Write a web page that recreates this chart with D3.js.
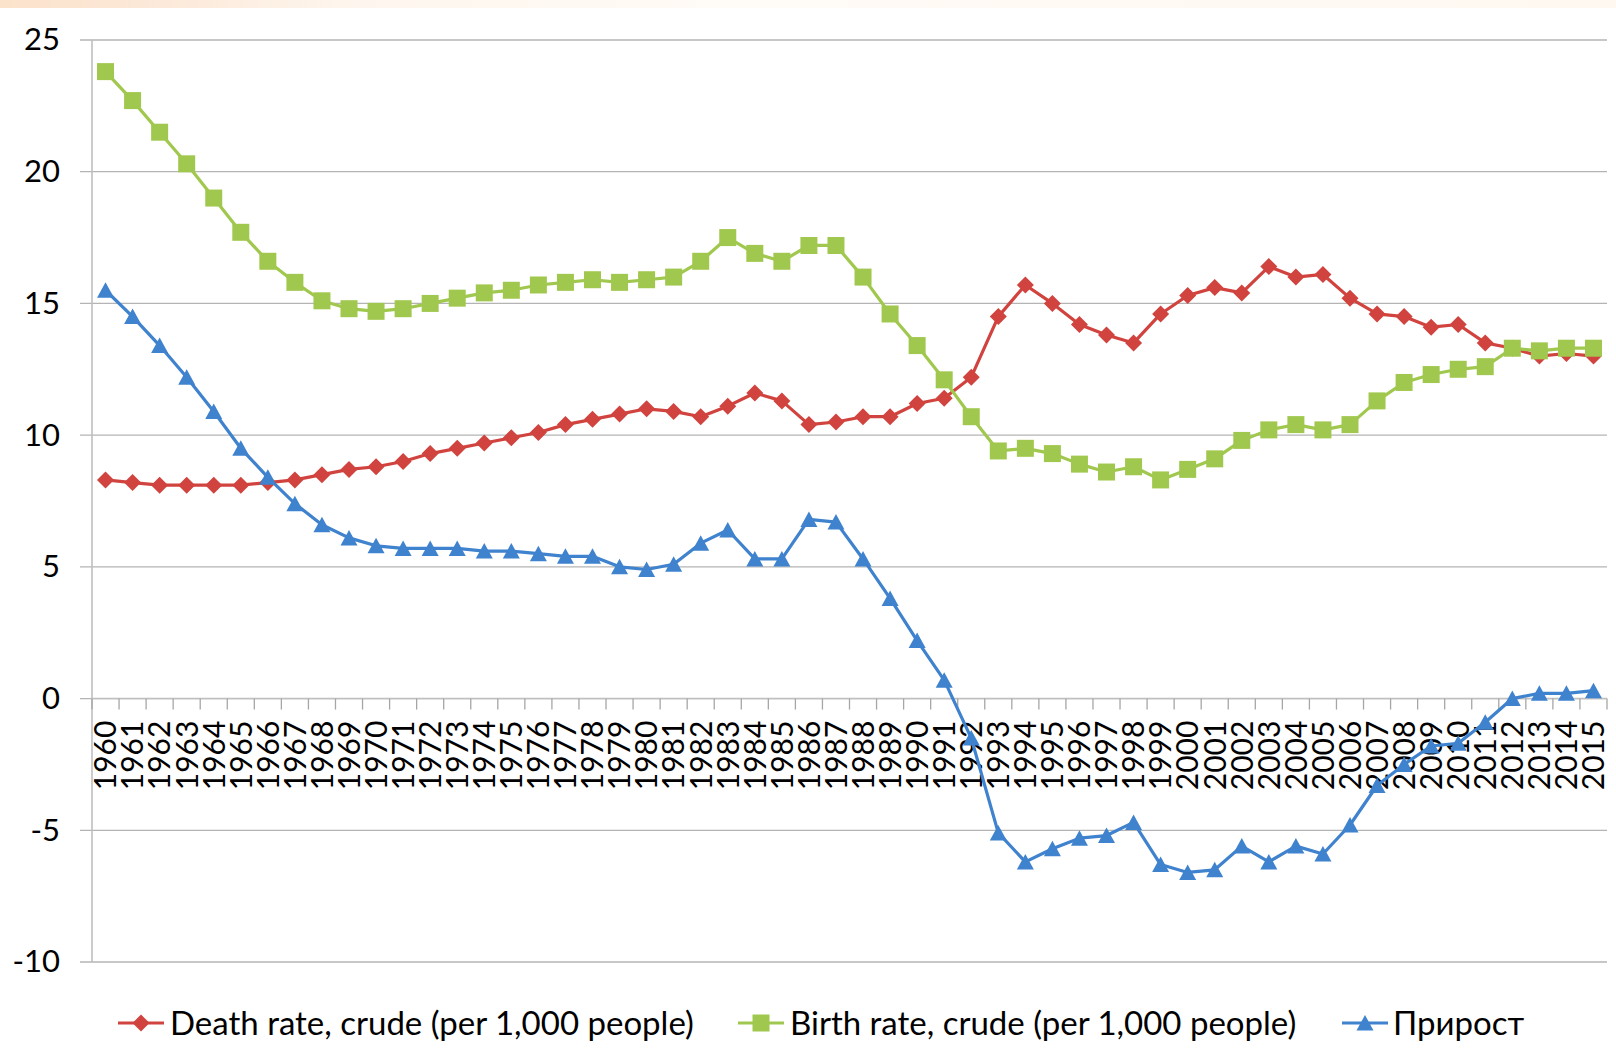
<!DOCTYPE html>
<html>
<head>
<meta charset="utf-8">
<script src="https://cdn.jsdelivr.net/npm/d3@7"></script>
<style>
  html, body { margin: 0; padding: 0; background: #ffffff; }
  svg { display: block; }
  text { font-family: Lato, "Open Sans", sans-serif; fill: #000; }
</style>
</head>
<body>
<svg id="chart" width="1616" height="1058"></svg>
<script>
// ---- data ----
const years = [1960,1961,1962,1963,1964,1965,1966,1967,1968,1969,
  1970,1971,1972,1973,1974,1975,1976,1977,1978,1979,
  1980,1981,1982,1983,1984,1985,1986,1987,1988,1989,
  1990,1991,1992,1993,1994,1995,1996,1997,1998,1999,
  2000,2001,2002,2003,2004,2005,2006,2007,2008,2009,
  2010,2011,2012,2013,2014,2015];

const deathRate = [8.3,8.2,8.1,8.1,8.1,8.1,8.2,8.3,8.5,8.7,
  8.8,9.0,9.3,9.5,9.7,9.9,10.1,10.4,10.6,10.8,
  11.0,10.9,10.7,11.1,11.6,11.3,10.4,10.5,10.7,10.7,
  11.2,11.4,12.2,14.5,15.7,15.0,14.2,13.8,13.5,14.6,
  15.3,15.6,15.4,16.4,16.0,16.1,15.2,14.6,14.5,14.1,
  14.2,13.5,13.3,13.0,13.1,13.0];

const birthRate = [23.8,22.7,21.5,20.3,19.0,17.7,16.6,15.8,15.1,14.8,
  14.7,14.8,15.0,15.2,15.4,15.5,15.7,15.8,15.9,15.8,
  15.9,16.0,16.6,17.5,16.9,16.6,17.2,17.2,16.0,14.6,
  13.4,12.1,10.7,9.4,9.5,9.3,8.9,8.6,8.8,8.3,
  8.7,9.1,9.8,10.2,10.4,10.2,10.4,11.3,12.0,12.3,
  12.5,12.6,13.3,13.2,13.3,13.3];

const growth = [15.5,14.5,13.4,12.2,10.9,9.5,8.4,7.4,6.6,6.1,
  5.8,5.7,5.7,5.7,5.6,5.6,5.5,5.4,5.4,5.0,
  4.9,5.1,5.9,6.4,5.3,5.3,6.8,6.7,5.3,3.8,
  2.2,0.7,-1.5,-5.1,-6.2,-5.7,-5.3,-5.2,-4.7,-6.3,
  -6.6,-6.5,-5.6,-6.2,-5.6,-5.9,-4.8,-3.3,-2.5,-1.8,
  -1.7,-0.9,0.0,0.2,0.2,0.3];

const yTicks = [-10,-5,0,5,10,15,20,25];
const seriesNames = ["Death rate, crude (per 1,000 people)", "Birth rate, crude (per 1,000 people)", "Прирост"];
const seriesColors = ["#D1433E", "#A1C84E", "#3F82CE"];
const seriesMarkers = ["diamond", "square", "triangle"];

(function () {
  // ---- layout ----
  const W = 1616, H = 1058;
  const pLeft = 92, pRight = 1607, pTop = 40, pBottom = 962;

  const svg = d3.select("#chart");

  // top decorative band
  const defs = svg.append("defs");
  const grad = defs.append("linearGradient").attr("id", "band")
    .attr("x1", "0").attr("x2", "1").attr("y1", "0").attr("y2", "0");
  [[0, "#FBE2CB"], [0.10, "#FCE9D9"], [0.22, "#FEF6EE"], [0.45, "#FFFBF6"], [1, "#FFF8F1"]].forEach(([o, c]) =>
    grad.append("stop").attr("offset", o).attr("stop-color", c));
  svg.append("rect").attr("x", 0).attr("y", 0).attr("width", W).attr("height", 8).attr("fill", "url(#band)");

  const x = d3.scaleBand().domain(years).range([pLeft, pRight]).padding(0);
  const y = d3.scaleLinear().domain([-10, 25]).range([pBottom, pTop]);
  const cx = d => x(d) + x.bandwidth() / 2;

  // gridlines
  svg.append("g").selectAll("line").data(yTicks).join("line")
    .attr("x1", pLeft - 12).attr("x2", pRight)
    .attr("y1", d => y(d)).attr("y2", d => y(d))
    .attr("stroke", "#B4B4B4").attr("stroke-width", 1.3);

  // y axis line
  svg.append("line").attr("x1", pLeft).attr("x2", pLeft).attr("y1", pTop).attr("y2", pBottom)
    .attr("stroke", "#BFBFBF").attr("stroke-width", 1.6);

  // y tick labels via axis
  const yAxis = svg.append("g").attr("transform", `translate(${pLeft - 32},0)`)
    .call(d3.axisLeft(y).tickValues(yTicks).tickSize(0).tickPadding(0).tickFormat(d => String(d)));
  yAxis.select(".domain").remove();
  yAxis.selectAll("text").style("font-size", "31px").attr("fill", "#000").attr("font-family", "Lato");

  // x axis at 0 with category boundary ticks
  const y0 = y(0);
  svg.append("line").attr("x1", pLeft).attr("x2", pRight).attr("y1", y0).attr("y2", y0)
    .attr("stroke", "#BFBFBF").attr("stroke-width", 1.6);
  svg.append("g").selectAll("line").data(years.concat([null])).join("line")
    .attr("x1", (d, i) => i < years.length ? x(d) : pRight)
    .attr("x2", (d, i) => i < years.length ? x(d) : pRight)
    .attr("y1", y0).attr("y2", y0 + 11)
    .attr("stroke", "#A6A6A6").attr("stroke-width", 1.3);

  const xAxis = svg.append("g").attr("transform", `translate(0,${y0})`)
    .call(d3.axisBottom(x).tickSize(0).tickPadding(0));
  xAxis.select(".domain").remove();
  xAxis.selectAll("text")
    .style("font-size", "30px").attr("font-family", "Lato").attr("fill", "#000")
    .attr("text-anchor", "end")
    .attr("x", 0).attr("y", 0).attr("dy", "0.36em")
    .attr("transform", "translate(0,22) rotate(-90)");

  // markers
  function markerPath(kind) {
    if (kind === "diamond") return "M0,-8.5L8.5,0L0,8.5L-8.5,0Z";
    if (kind === "square") return "M-8.5,-8.5H8.5V8.5H-8.5Z";
    return "M0,-8L8.5,7.5H-8.5Z";
  }

  const series = [deathRate, birthRate, growth];
  const line = d3.line().x((d, i) => cx(years[i])).y(d => y(d));

  series.forEach((vals, si) => {
    const g = svg.append("g");
    g.append("path").datum(vals).attr("d", line)
      .attr("fill", "none").attr("stroke", seriesColors[si]).attr("stroke-width", 3.2)
      .attr("stroke-linejoin", "round");
    g.selectAll("path.m").data(vals).join("path").attr("class", "m")
      .attr("d", markerPath(seriesMarkers[si]))
      .attr("transform", (d, i) => `translate(${cx(years[i])},${y(d)})`)
      .attr("fill", seriesColors[si]);
  });

  // legend
  const legendY = 1023;
  const legendItems = [
    { lx: 118, tx: 170 },
    { lx: 738, tx: 790 },
    { lx: 1342, tx: 1393 }
  ];
  legendItems.forEach((it, i) => {
    const g = svg.append("g");
    g.append("line").attr("x1", it.lx).attr("x2", it.lx + 46).attr("y1", legendY).attr("y2", legendY)
      .attr("stroke", seriesColors[i]).attr("stroke-width", 3.2);
    g.append("path").attr("d", markerPath(seriesMarkers[i]))
      .attr("transform", `translate(${it.lx + 23},${legendY})`).attr("fill", seriesColors[i]);
    g.append("text").attr("x", it.tx).attr("y", legendY).attr("dy", "0.35em")
      .style("font-size", "33px").text(seriesNames[i]);
  });
})();
</script>
</body>
</html>
